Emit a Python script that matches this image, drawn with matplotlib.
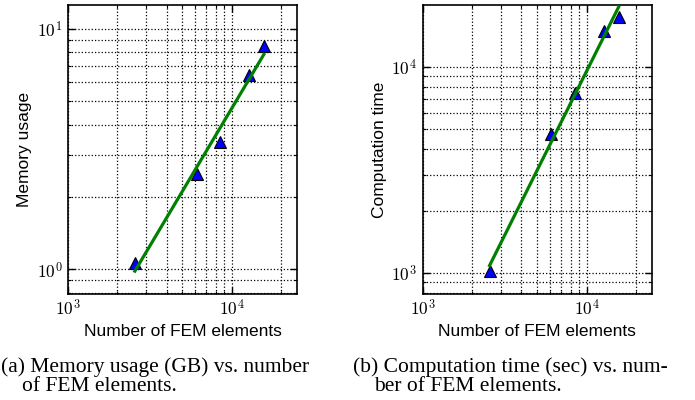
import matplotlib

matplotlib.use("Agg")
import matplotlib.pyplot as plt
import numpy as np
from matplotlib.ticker import FuncFormatter, LogLocator


# number of FEM elements for each run
ELEMENTS = [2560, 6100, 8450, 12750, 15700]
# memory usage in GB
MEMORY_GB = [1.06, 2.49, 3.38, 6.45, 8.52]
# computation time in seconds
TIME_SEC = [1023, 4700, 7480, 14900, 17400]

X_LIMITS = (1e3, 2.5e4)
MEMORY_LIMITS = (0.79, 12.6)
TIME_LIMITS = (790, 1.995e4)

CAPTION_A = ["(a) Memory usage (GB) vs. number", "of FEM elements."]
CAPTION_B = ["(b) Computation time (sec) vs. num-", "ber of FEM elements."]

OUTPUT_PATH = "out.png"

plt.rcParams["mathtext.fontset"] = "cm"
plt.rcParams["font.family"] = ["Liberation Sans", "DejaVu Sans"]


def power_fit(x, y):
    # least squares line in log-log space, drawn over the data range
    lx = np.log10(x)
    slope, icpt = np.polyfit(lx, np.log10(y), 1)
    xs = np.array([min(x), max(x)])
    return xs, 10 ** (icpt + slope * np.log10(xs))


def decade_label(value, _pos):
    return r"$10^{%d}$" % int(round(np.log10(value)))


def style_axis(ax, ylabel, ylim):
    ax.set_xscale("log")
    ax.set_yscale("log")
    ax.set_xlim(*X_LIMITS)
    ax.set_ylim(*ylim)
    for axis in (ax.xaxis, ax.yaxis):
        axis.set_major_locator(LogLocator(base=10))
        axis.set_minor_locator(LogLocator(base=10, subs=np.arange(2, 10)))
        axis.set_major_formatter(FuncFormatter(decade_label))
    ax.tick_params(which="both", direction="in", top=True, right=True,
                   labelsize=12.5)
    ax.tick_params(axis="x", which="major", pad=3)
    ax.tick_params(axis="y", which="major", pad=4)
    ax.tick_params(which="major", length=5, width=1)
    ax.tick_params(which="minor", length=2.5, width=0.8)
    ax.grid(True, which="both", color="black", linestyle=":", linewidth=0.9)
    for spine in ax.spines.values():
        spine.set_linewidth(1.2)
    ax.set_xlabel("Number of FEM elements", fontsize=12.5, labelpad=4)
    ax.set_ylabel(ylabel, fontsize=12.5, labelpad=3)


def main() -> None:
    fig = plt.figure(figsize=(6.95, 4.0), dpi=100)
    ax_mem = fig.add_axes([0.0978, 0.265, 0.3295, 0.7225])
    ax_time = fig.add_axes([0.6082, 0.265, 0.3295, 0.7225])

    for ax, values, ylabel, ylim in [
        (ax_mem, MEMORY_GB, "Memory usage", MEMORY_LIMITS),
        (ax_time, TIME_SEC, "Computation time", TIME_LIMITS),
    ]:
        ax.plot(ELEMENTS, values, linestyle="none", marker="^",
                markersize=8, markerfacecolor="blue",
                markeredgecolor="black", markeredgewidth=0.8, zorder=3)
        fit_x, fit_y = power_fit(ELEMENTS, values)
        ax.plot(fit_x, fit_y, color=(0, 0.5, 0), linewidth=2.3, zorder=4)
        style_axis(ax, ylabel, ylim)

    serif = ["Liberation Serif", "DejaVu Serif"]
    for x0, lines in [(0.001, CAPTION_A), (0.508, CAPTION_B)]:
        fig.text(x0, 1 - 372 / 400, lines[0], fontsize=15.5,
                 family=serif, va="baseline")
        fig.text(x0 + 0.03, 1 - 391 / 400, lines[1], fontsize=15.5,
                 family=serif, va="baseline")

    fig.savefig(OUTPUT_PATH, dpi=100)
    plt.close(fig)


if __name__ == "__main__":
    main()
